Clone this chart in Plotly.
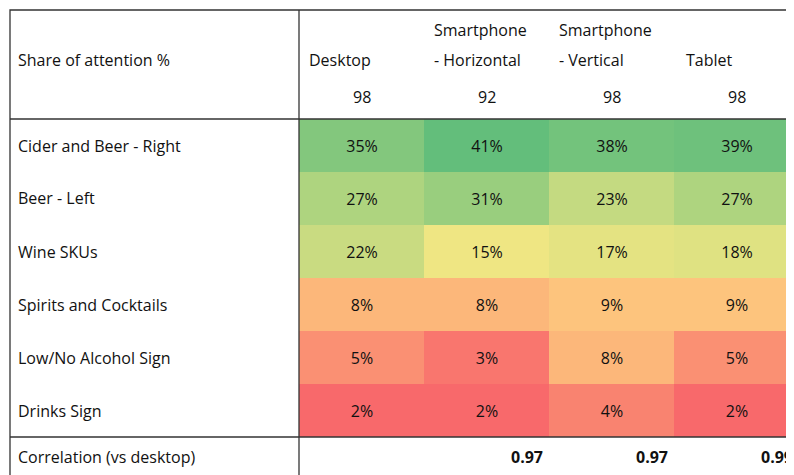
import plotly.graph_objects as go

columns = ["Desktop", "Smartphone - Horizontal", "Smartphone - Vertical", "Tablet"]
header_lines = [["", "Desktop"], ["Smartphone", "- Horizontal"], ["Smartphone", "- Vertical"], ["", "Tablet"]]
counts = [98, 92, 98, 98]
rows = ["Cider and Beer - Right", "Beer - Left", "Wine SKUs", "Spirits and Cocktails",
        "Low/No Alcohol Sign", "Drinks Sign"]
values = [
    [35, 41, 38, 39],
    [27, 31, 23, 27],
    [22, 15, 17, 18],
    [8, 8, 9, 9],
    [5, 3, 8, 5],
    [2, 2, 4, 2],
]
correlation = [None, 0.97, 0.97, 0.99]

W, H = 794, 475
X0, XL, X1 = 2, 291, 791
Y0, YH, YC, Y1 = 2, 111, 429, 469
FONT = "Open Sans"
px = lambda x: x / W
py = lambda y: 1 - y / H
colw = (X1 - XL) / 4

vmin, vmax = 2, 41
mid = (12 - vmin) / (vmax - vmin)
fig = go.Figure(go.Heatmap(
    z=values, x=columns, y=rows, zmin=vmin, zmax=vmax,
    colorscale=[[0, "#F8696B"], [mid, "#FFEB84"], [1, "#63BE7B"]],
    showscale=False, hoverinfo="skip", xgap=0, ygap=0,
    text=[[f"{v}%" for v in r] for r in values], texttemplate="%{text}",
    textfont=dict(family=FONT, size=16, color="#111")))

ann = []
ann.append(dict(x=px(8), y=py(52), text="Share of attention %", xanchor="left"))
for i, (l1, l2) in enumerate(header_lines):
    left = XL + i * colw + (8 if i != 3 else 10)
    if l1:
        ann.append(dict(x=px(left), y=py(22), text=l1, xanchor="left"))
    ann.append(dict(x=px(left), y=py(52), text=l2, xanchor="left"))
    ann.append(dict(x=px(XL + (i + 0.5) * colw), y=py(89), text=str(counts[i]), xanchor="center"))
rh = (YC - YH) / len(rows)
for j, r in enumerate(rows):
    ann.append(dict(x=px(8), y=py(YH + (j + 0.5) * rh), text=r, xanchor="left"))
ann.append(dict(x=px(8), y=py(449), text="Correlation (vs desktop)", xanchor="left"))
for i, c in enumerate(correlation):
    if c is not None:
        ann.append(dict(x=px(XL + (i + 1) * colw - 4), y=py(449), text=f"<b>{c:.2f}</b>", xanchor="right"))
for a in ann:
    a.update(xref="paper", yref="paper", yanchor="middle", showarrow=False,
             font=dict(family=FONT, size=16, color="#111"))

line = dict(color="#333", width=1.3)
shapes = [
    dict(type="rect", x0=px(X0), x1=px(X1), y0=py(Y0), y1=py(Y1), line=line),
    dict(type="line", x0=px(X0), x1=px(X1), y0=py(YH), y1=py(YH), line=line),
    dict(type="line", x0=px(X0), x1=px(X1), y0=py(YC), y1=py(YC), line=line),
    dict(type="line", x0=px(XL), x1=px(XL), y0=py(Y0), y1=py(Y1), line=line),
]
for s in shapes:
    s.update(xref="paper", yref="paper")

fig.update_layout(
    width=W, height=H, margin=dict(l=0, r=0, t=0, b=0),
    paper_bgcolor="white", plot_bgcolor="white",
    xaxis=dict(domain=[px(XL), px(X1)], visible=False),
    yaxis=dict(domain=[py(YC), py(YH)], visible=False, autorange="reversed"),
    annotations=ann, shapes=shapes)
fig.write_html("out.html")
